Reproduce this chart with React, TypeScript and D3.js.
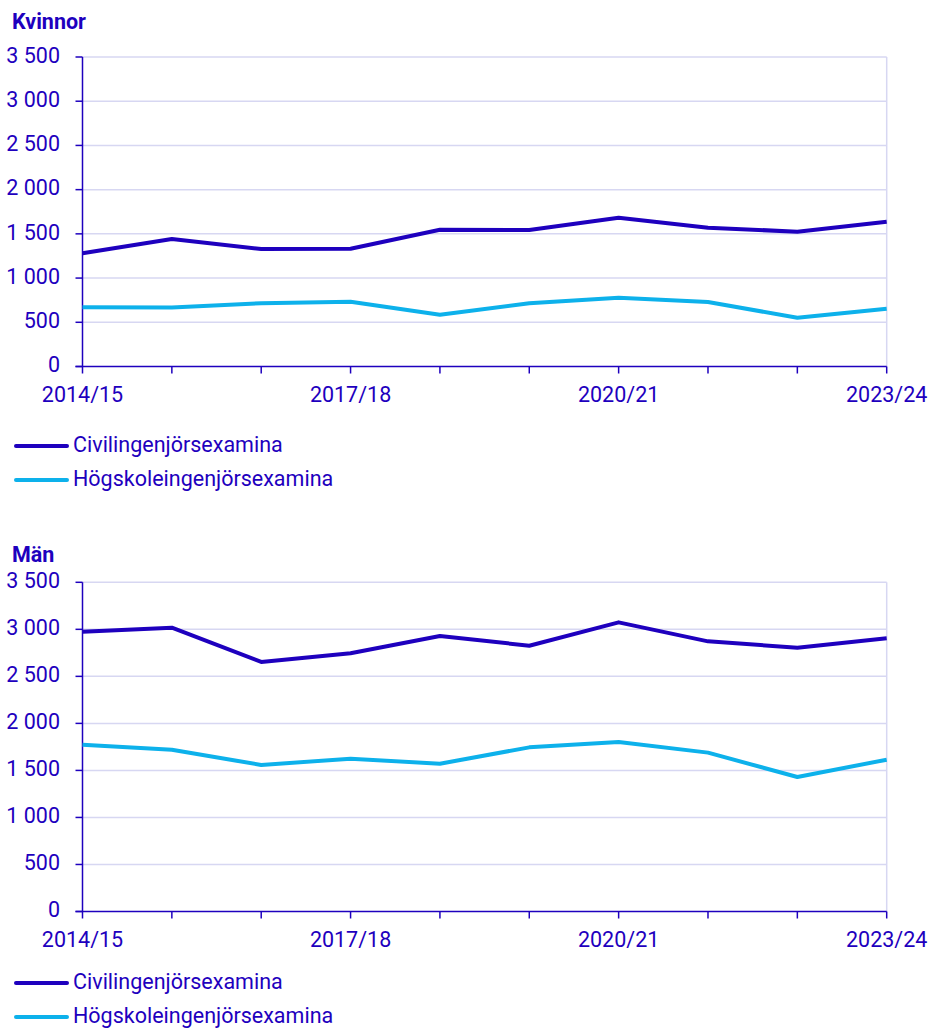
import React from 'react';
import * as d3 from 'd3';

const years = ['2014/15', '2015/16', '2016/17', '2017/18', '2018/19', '2019/20', '2020/21', '2021/22', '2022/23', '2023/24'];
const shownYears = ['2014/15', '2017/18', '2020/21', '2023/24'];
const yTicks = [0, 500, 1000, 1500, 2000, 2500, 3000, 3500];

const seriesNames = ['Civilingenjörsexamina', 'Högskoleingenjörsexamina'];

const kvinnorCivil = [1280, 1442, 1329, 1332, 1547, 1544, 1683, 1570, 1524, 1637];
const kvinnorHogskola = [669, 668, 715, 733, 586, 715, 778, 729, 552, 654];

const manCivil = [2975, 3017, 2653, 2745, 2929, 2826, 3074, 2872, 2805, 2904];
const manHogskola = [1774, 1720, 1558, 1625, 1571, 1745, 1802, 1689, 1430, 1614];

const DARK = '#1E00BE';
const LIGHT = '#0DB1EB';
const GRID = '#D7D7F2';
const FONT = 'Roboto, "Noto Sans", sans-serif';
const FS = 21.5;
const colors = [DARK, LIGHT];

const fmt = (v: number) => d3.format(',')(v).replace(/,/g, ' ');

function Panel({ title, titleY, top, bottom, series, legendY }: {
  title: string; titleY: number; top: number; bottom: number; series: number[][]; legendY: number;
}) {
  const left = 82.5;
  const right = 886.7;
  const x = d3.scalePoint<string>().domain(years).range([left, right]);
  const y = d3.scaleLinear().domain([0, 3500]).range([bottom, top]);
  const line = d3.line<number>()
    .x((_, i) => x(years[i]) as number)
    .y(d => y(d));

  return (
    <g>
      <text x={12} y={titleY} fill={DARK} fontSize={FS} fontWeight={700} dominantBaseline="middle">{title}</text>
      {/* grid */}
      {yTicks.filter(t => t > 0).map(t => (
        <line key={t} x1={left} x2={right} y1={y(t)} y2={y(t)} stroke={GRID} strokeWidth={1.5} />
      ))}
      <line x1={right} x2={right} y1={top} y2={bottom} stroke={GRID} strokeWidth={1.5} />
      {/* y axis */}
      <line x1={left} x2={left} y1={top} y2={bottom} stroke={DARK} strokeWidth={1.5} />
      {yTicks.map(t => (
        <g key={t}>
          <line x1={left - 7} x2={left} y1={y(t)} y2={y(t)} stroke={DARK} strokeWidth={1.5} />
          <text x={60} y={y(t)} textAnchor="end" dominantBaseline="middle" fill={DARK} fontSize={FS}>{fmt(t)}</text>
        </g>
      ))}
      {/* lines */}
      {series.map((s, i) => (
        <path key={i} d={line(s) || ''} fill="none" stroke={colors[i]} strokeWidth={4} strokeLinejoin="round" />
      ))}
      {/* x axis */}
      <line x1={left - 7} x2={right} y1={bottom} y2={bottom} stroke={DARK} strokeWidth={1.5} />
      {years.map(c => (
        <line key={c} x1={x(c)} x2={x(c)} y1={bottom} y2={bottom + 7} stroke={DARK} strokeWidth={1.5} />
      ))}
      {shownYears.map(c => (
        <text key={c} x={x(c)} y={bottom + 29.5} textAnchor="middle" dominantBaseline="middle" fill={DARK} fontSize={FS}>{c}</text>
      ))}
      {/* legend */}
      {seriesNames.map((n, i) => (
        <g key={n} transform={`translate(0, ${legendY + i * 34})`}>
          <line x1={16} x2={67} y1={0} y2={0} stroke={colors[i]} strokeWidth={4} strokeLinecap="round" />
          <text x={73} y={0} dominantBaseline="middle" fill={DARK} fontSize={FS}>{n}</text>
        </g>
      ))}
    </g>
  );
}

export default function App() {
  return (
    <svg width={930} height={1030} style={{ position: 'absolute', left: 0, top: 0, background: '#fff' }} fontFamily={FONT}>
      <Panel title="Kvinnor" titleY={23} top={57} bottom={366.5} series={[kvinnorCivil, kvinnorHogskola]} legendY={446} />
      <Panel title="Män" titleY={556} top={582.3} bottom={911.5} series={[manCivil, manHogskola]} legendY={983} />
    </svg>
  );
}
